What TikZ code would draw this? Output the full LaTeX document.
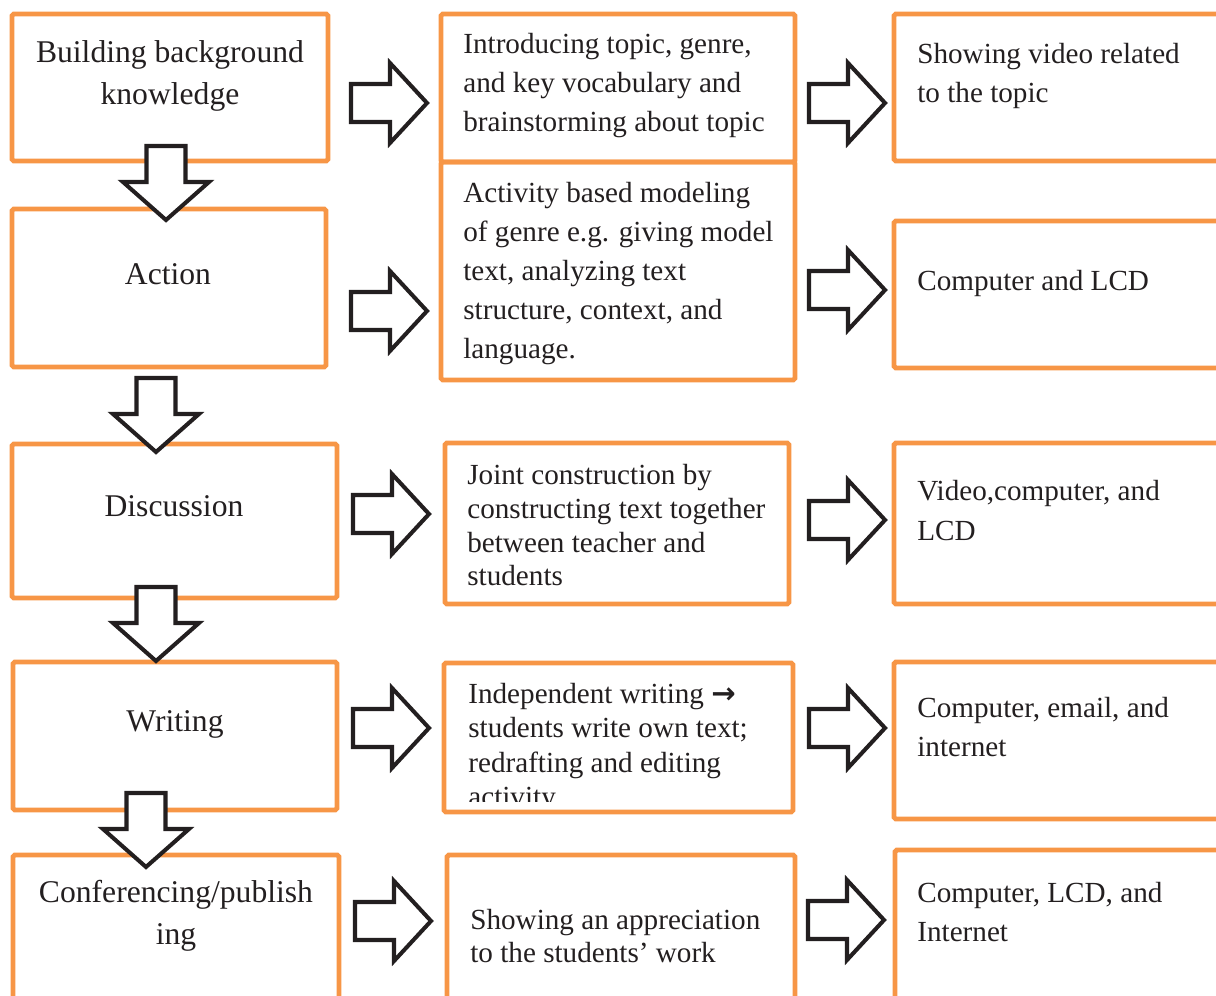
\documentclass[tikz,border=0pt]{standalone}
\usepackage{fontspec}
\setmainfont{Liberation Serif}
\newfontfamily\arrowfont{DejaVu Sans}
\usepackage{tikz}
\usetikzlibrary{fit}

\definecolor{boxorange}{RGB}{247,150,70}
\definecolor{inkblack}{RGB}{35,31,32}

\tikzset{
  box/.style={draw=boxorange, line width=2.8pt, rounded corners=1pt, inner sep=0pt},
  blockarrow/.style={draw=inkblack, fill=white, line width=2.3pt, line join=miter},
  steptext/.style={anchor=north, inner sep=0pt, align=center, text=inkblack,
    font=\fontsize{18}{24}\selectfont},
  notetext/.style={anchor=north west, inner sep=0pt, align=left, text=inkblack,
    font=\fontsize{16.6}{22.2}\selectfont},
  pics/rightarrow/.style={code={
    \draw[blockarrow] (-38,-19) -- (1,-19) -- (1,-40) -- (38,0) -- (1,40) -- (1,19) -- (-38,19) -- cycle;}},
  pics/downarrow/.style={code={
    \draw[blockarrow] (-19.5,-37) -- (19.5,-37) -- (19.5,-1) -- (43,-1) -- (0,37) -- (-43,-1) -- (-19.5,-1) -- cycle;}},
}

\begin{document}
\begin{tikzpicture}[x=0.02cm, y=-0.02cm]
        \useasboundingbox (0,0) rectangle (1216,996);
        \clip (0,0) rectangle (1216,996);

        % stages
        \node[box, fit={(12,14) (328,161)}] (build) {};
        \node[box, fit={(12,209) (326,367)}] (action) {};
        \node[box, fit={(12,444) (337,598)}] (discuss) {};
        \node[box, fit={(13,662) (337,810)}] (writing) {};
        \node[box, fit={(13,855) (339,1010)}] (confer) {};

        % activities
        \node[box, fit={(441,14) (795,162)}] (topic) {};
        \node[box, fit={(441,162) (795,380)}] (model) {};
        \node[box, fit={(445,443) (789,604)}] (joint) {};
        \node[box, fit={(444,663) (793,812)}] (indep) {};
        \node[box, fit={(447,855) (795,1010)}] (apprec) {};

        % media
        \node[box, fit={(894,14) (1240,161)}] (video) {};
        \node[box, fit={(894,221) (1240,368)}] (lcd) {};
        \node[box, fit={(894,443) (1240,604)}] (media) {};
        \node[box, fit={(894,662) (1240,819)}] (email) {};
        \node[box, fit={(895,850) (1240,1010)}] (internet) {};

        % arrows
        \pic (ra1) at (389,103) {rightarrow};
        \pic (ra2) at (389,311) {rightarrow};
        \pic (ra3) at (391,514) {rightarrow};
        \pic (ra4) at (391,728) {rightarrow};
        \pic (ra5) at (393,921) {rightarrow};
        \pic (rb1) at (847,103) {rightarrow};
        \pic (rb2) at (847,290) {rightarrow};
        \pic (rb3) at (847,520) {rightarrow};
        \pic (rb4) at (847,728) {rightarrow};
        \pic (rb5) at (846,920) {rightarrow};
        \pic (da1) at (166,183) {downarrow};
        \pic (da2) at (156,415) {downarrow};
        \pic (da3) at (156,624) {downarrow};
        \pic (da4) at (146,830) {downarrow};

        % texts
        \node[steptext] (buildtxt) at (170,40) {Building background\\knowledge};
        \node[steptext] (actiontxt) at (168,263) {Action};
        \node[steptext] (discusstxt) at (174,495) {Discussion};
        \node[steptext] (writingtxt) at (175,710) {Writing};
        \node[steptext] (confertxt) at (176,880) {Conferencing/publish\\ing};

        \node[notetext] (topictxt) at (463,33) {Introducing topic, genre,\\and key vocabulary and\\brainstorming about topic};
        \node[notetext] (modeltxt) at (463,182) {Activity based modeling\\of genre e.g. giving model\\text, analyzing text\\structure, context, and\\language.};
        \node[notetext, font=\fontsize{16.6}{19.2}\selectfont] (jointtxt) at (467,464) {Joint construction by\\constructing text together\\between teacher and\\students};
        \begin{scope}
          \clip (444,663) rectangle (793,801);
          \node[notetext, font=\fontsize{16.6}{19.5}\selectfont] (indeptxt) at (468,683) {Independent writing {\arrowfont\bfseries →}\\students write own text;\\redrafting and editing\\activity};
        \end{scope}
        \node[notetext, font=\fontsize{16.6}{18.5}\selectfont] (apprectxt) at (470,909) {Showing an appreciation\\to the students’ work};

        \node[notetext] (videotxt) at (917,43) {Showing video related\\to the topic};
        \node[notetext] (lcdtxt) at (917,270) {Computer and LCD};
        \node[notetext, font=\fontsize{16.6}{22.5}\selectfont] (mediatxt) at (917,480) {Video,computer, and\\LCD};
        \node[notetext] (emailtxt) at (917,697) {Computer, email, and\\internet};
        \node[notetext] (internettxt) at (917,882) {Computer, LCD, and\\Internet};
    \end{tikzpicture}
\end{document}
